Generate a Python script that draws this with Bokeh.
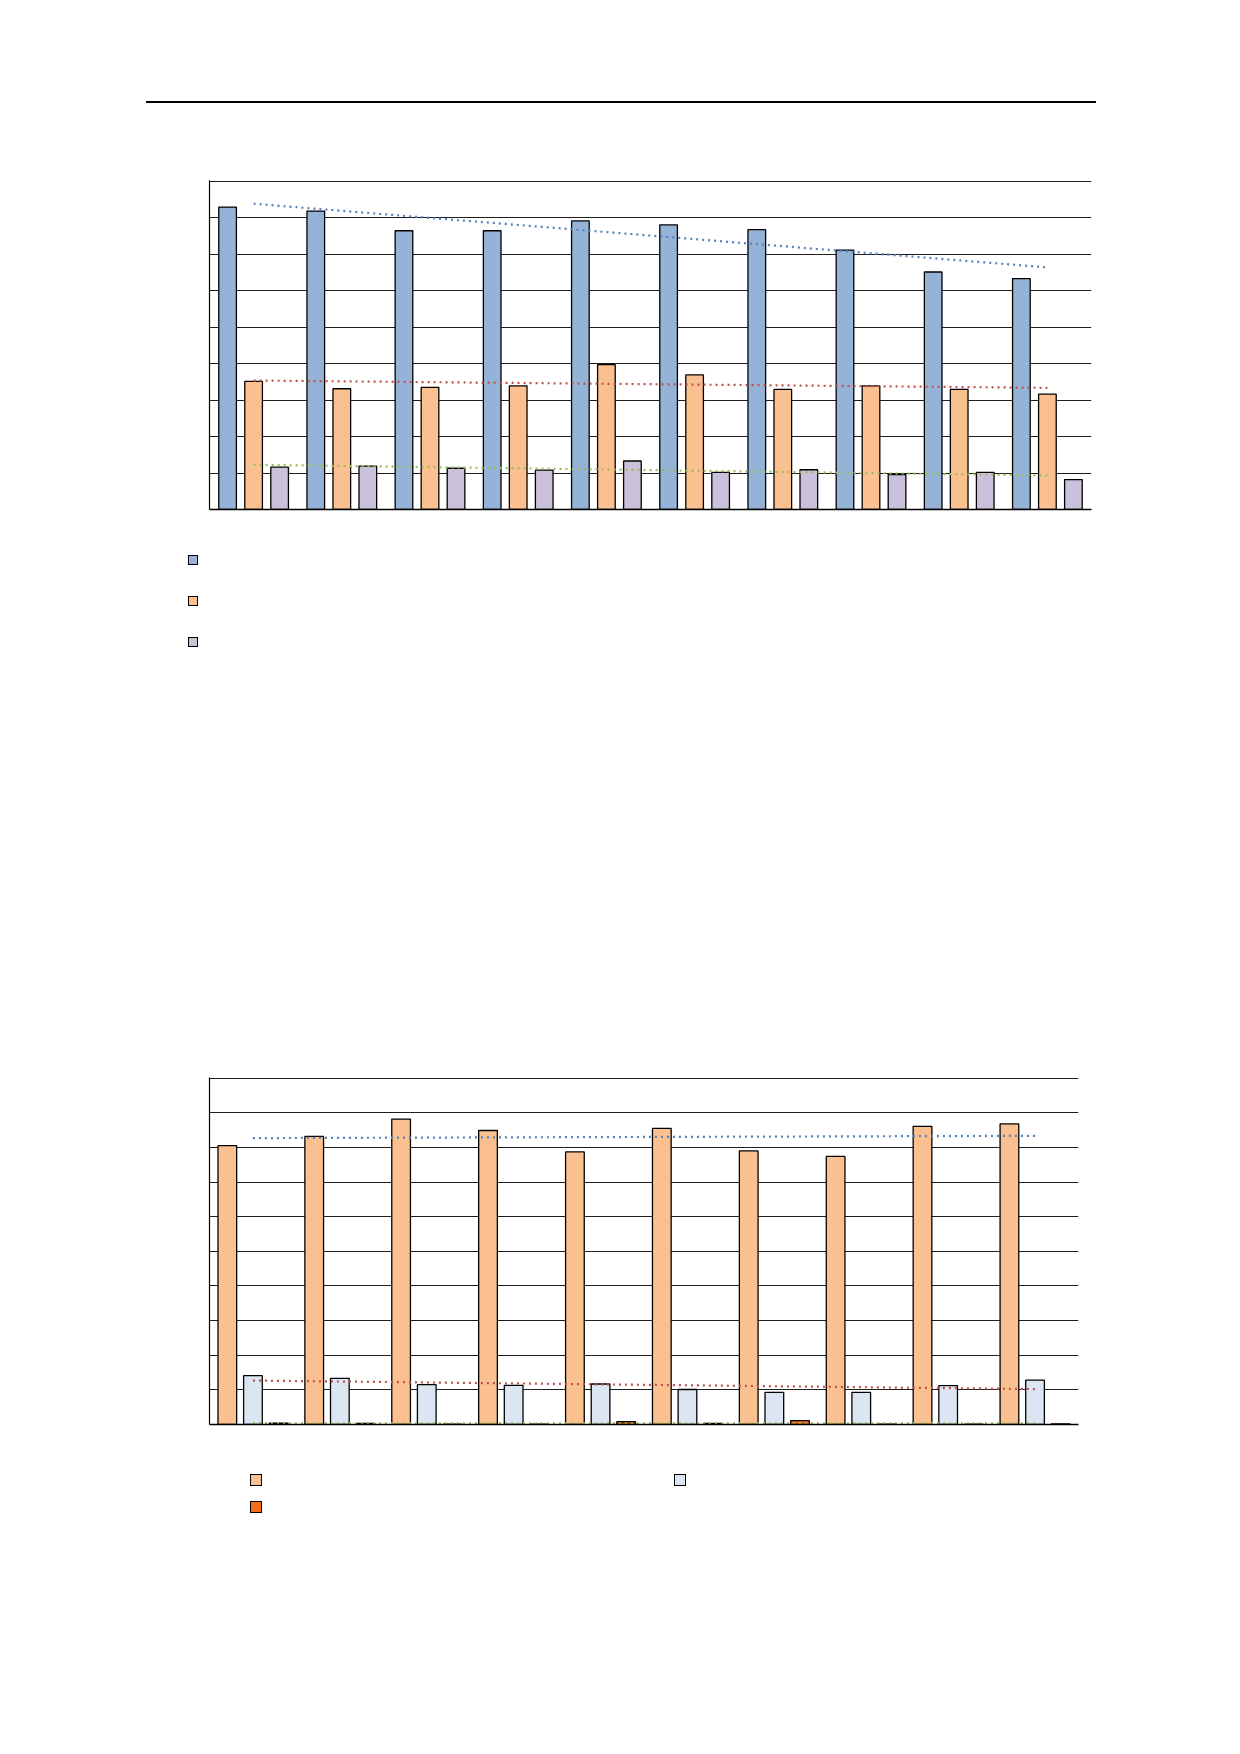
import numpy as np
from bokeh.plotting import figure
from bokeh.models import (Range1d, FixedTicker, Div, ColumnDataSource)
from bokeh.layouts import column
from bokeh.transform import dodge
from bokeh.embed import file_html
from bokeh.resources import INLINE

# ---------------- data ----------------
categories = [1, 2, 3, 4, 5, 6, 7, 8, 9, 10]

# top chart (grid step 10, range 0-90)
top_series_a = [82.9, 81.8, 76.4, 76.4, 79.1, 78.0, 76.7, 71.1, 65.1, 63.3]
top_series_b = [35.1, 33.1, 33.5, 33.9, 39.7, 36.9, 32.9, 33.9, 32.9, 31.6]
top_series_c = [11.6, 11.9, 11.3, 10.8, 13.3, 10.2, 10.9, 9.6, 10.2, 8.2]

# bottom chart (grid step 10, range 0-100)
bot_series_a = [80.5, 83.2, 88.2, 84.9, 78.7, 85.5, 79.0, 77.4, 86.1, 86.8]
bot_series_b = [14.1, 13.3, 11.5, 11.3, 11.7, 10.1, 9.3, 9.3, 11.2, 12.8]
bot_series_c = [0.4, 0.3, 0.1, 0.1, 0.8, 0.3, 1.1, 0.1, 0.1, 0.2]

top_ticks = [0, 10, 20, 30, 40, 50, 60, 70, 80, 90]
bot_ticks = [0, 10, 20, 30, 40, 50, 60, 70, 80, 90, 100]

# ---------------- styles ----------------
C_BLUE = "#95B3D7"
C_ORANGE = "#FAC090"
C_PURPLE = "#CCC1DA"
C_LBLUE = "#DCE6F2"
C_DORANGE = "#F86C18"
T_BLUE = "#4F81BD"
T_RED = "#C0504D"
T_GREEN = "#9BBB59"
GRID = "#1e1e1e"


def base_figure(frame_w, frame_h, top, bottom, ticks):
    p = figure(frame_width=frame_w, frame_height=frame_h,
               x_range=Range1d(0.5, len(categories) + 0.5),
               y_range=Range1d(0, ticks[-1] * 1.002),
               output_backend="svg", toolbar_location=None,
               min_border_left=209, min_border_right=8,
               min_border_top=top, min_border_bottom=bottom)
    p.outline_line_color = None
    p.background_fill_color = "white"
    p.border_fill_color = "white"
    p.xgrid.visible = False
    p.ygrid.ticker = FixedTicker(ticks=ticks[1:])
    p.ygrid.grid_line_color = GRID
    p.ygrid.grid_line_width = 1
    for ax in (p.xaxis, p.yaxis):
        ax.ticker = FixedTicker(ticks=[])
        ax.axis_line_color = "black"
        ax.major_tick_line_color = None
        ax.minor_tick_line_color = None
        ax.major_label_text_font_size = "0px"
    p.xaxis.axis_line_width = 1.5
    p.yaxis.axis_line_width = 1.2
    return p


def add_trend(p, ys, color):
    x = np.array(categories, dtype=float)
    k, b = np.polyfit(x, np.array(ys, dtype=float), 1)
    xs = [x[0], x[-1]]
    p.line(xs, [k * xs[0] + b, k * xs[1] + b], line_color=color,
           line_width=2.2, line_dash="2 4")


def bars(p, src, field, offset, width, color):
    return p.vbar(x=dodge("x", offset, range=p.x_range), top=field, width=width,
                  source=src, fill_color=color, line_color="black", line_width=1.3)


def key_div(colors, ncols, left, top, col_pitch, row_pitch, size, width, height):
    """Legend keys (no labels in the source) laid out row-major in a grid."""
    boxes = []
    for i, c in enumerate(colors):
        x = left + (i % ncols) * col_pitch
        y = top + (i // ncols) * row_pitch
        boxes.append(
            f'<div style="position:absolute;left:{x}px;top:{y}px;width:{size}px;'
            f'height:{size}px;background:{c};border:1.3px solid #000;'
            f'box-sizing:border-box;"></div>')
    html = (f'<div style="position:relative;width:{width}px;height:{height}px;">'
            + "".join(boxes) + "</div>")
    return Div(text=html, width=width, height=height, margin=(0, 0, 0, 0))


# ---------------- top chart ----------------
src1 = ColumnDataSource(dict(x=categories, a=top_series_a, b=top_series_b, c=top_series_c))
p1 = base_figure(882, 329, 77, 30, top_ticks)
bars(p1, src1, "a", -0.295, 0.2, C_BLUE)
bars(p1, src1, "b", 0.0, 0.2, C_ORANGE)
bars(p1, src1, "c", 0.295, 0.2, C_PURPLE)
add_trend(p1, top_series_a, T_BLUE)
add_trend(p1, top_series_b, T_RED)
add_trend(p1, top_series_c, T_GREEN)

keys1 = key_div([C_BLUE, C_ORANGE, C_PURPLE], 1, 188, 16, 0, 41, 10, 400, 120)

# ---------------- bottom chart ----------------
src2 = ColumnDataSource(dict(x=categories, a=bot_series_a, b=bot_series_b, c=bot_series_c))
p2 = base_figure(869, 347, 418, 20, bot_ticks)
bars(p2, src2, "a", -0.295, 0.215, C_ORANGE)
bars(p2, src2, "b", 0.0, 0.215, C_LBLUE)
bars(p2, src2, "c", 0.295, 0.215, C_DORANGE)
add_trend(p2, bot_series_a, T_BLUE)
add_trend(p2, bot_series_b, T_RED)
add_trend(p2, bot_series_c, T_GREEN)

keys2 = key_div([C_ORANGE, C_LBLUE, C_DORANGE], 2, 250, 30, 424, 27, 12, 800, 90)

# ---------------- page ----------------
header = Div(text="", width=950, height=2, margin=(101, 0, 0, 146),
             styles={"background-color": "#000000"})

page = column(header, p1, keys1, p2, keys2, spacing=0)

open("out.html", "w").write(file_html(page, INLINE))
